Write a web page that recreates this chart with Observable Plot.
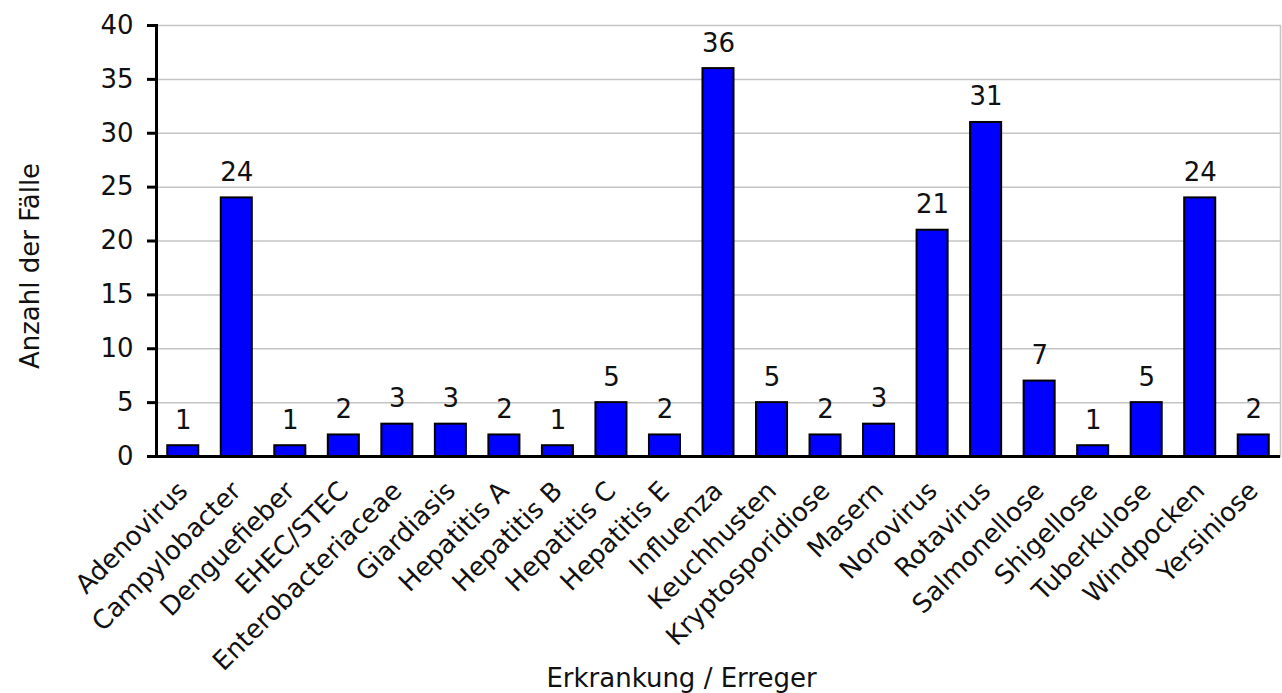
<!DOCTYPE html>
<html>
<head>
<meta charset="utf-8">
<script src="https://cdn.jsdelivr.net/npm/d3@7"></script>
<script src="https://cdn.jsdelivr.net/npm/@observablehq/plot@0.6"></script>
<style>
  html, body { margin: 0; padding: 0; background: #fff; }
  #chart svg { display: block; }
</style>
</head>
<body>
<div id="chart"></div>
<script>
const categories = ["Adenovirus", "Campylobacter", "Denguefieber", "EHEC/STEC", "Enterobacteriaceae", "Giardiasis", "Hepatitis A", "Hepatitis B", "Hepatitis C", "Hepatitis E", "Influenza", "Keuchhusten", "Kryptosporidiose", "Masern", "Norovirus", "Rotavirus", "Salmonellose", "Shigellose", "Tuberkulose", "Windpocken", "Yersiniose"];
const values = [1, 24, 1, 2, 3, 3, 2, 1, 5, 2, 36, 5, 2, 3, 21, 31, 7, 1, 5, 24, 2];
const yTicks = [0, 5, 10, 15, 20, 25, 30, 35, 40];
const xTitle = "Erkrankung / Erreger";
const yTitle = "Anzahl der Fälle";

const data = categories.map((c, i) => ({category: c, value: values[i]}));
const font = "DejaVu Sans, sans-serif";
const fs = 26;

const chart = Plot.plot({
  width: 1282,
  height: 693,
  marginLeft: 156,
  marginRight: 2,
  marginTop: 25,
  marginBottom: 237,
  style: {fontFamily: font, fontSize: fs + "px", color: "#111", background: "#fff"},
  x: {domain: categories, paddingInner: 0.42, paddingOuter: 0.21, round: false, label: null},
  y: {domain: [0, 40], ticks: yTicks, label: null},
  marks: [
    Plot.gridY(yTicks, {stroke: "#c4c4c4", strokeOpacity: 1, strokeWidth: 1.5}),
    Plot.frame({anchor: "right", stroke: "#c4c4c4", strokeWidth: 1.5}),
    Plot.barY(data, {x: "category", y: "value", fill: "#0000ff", stroke: "#000", strokeWidth: 2}),
    Plot.text(data, {x: "category", y: "value", text: d => String(d.value), dy: -17, lineAnchor: "bottom", fontSize: fs, fill: "#111"}),
    Plot.axisY(yTicks, {tickSize: 9, tickPadding: 14, strokeWidth: 3, stroke: "#000", fontSize: fs}),
    Plot.axisX({tickSize: 0, tickRotate: -45, tickPadding: 30, dx: 0, fontSize: fs}),
    Plot.frame({anchor: "left", stroke: "#000", strokeWidth: 3}),
    Plot.ruleY([0], {stroke: "#000", strokeWidth: 3}),
    Plot.text([xTitle], {frameAnchor: "bottom", dy: 230, dx: -37, fontSize: fs, fill: "#111"}),
    Plot.text([yTitle], {frameAnchor: "left", textAnchor: "middle", dx: -126, dy: 25, rotate: -90, fontSize: fs, fill: "#111"})
  ]
});
document.getElementById("chart").appendChild(chart);
</script>
</body>
</html>
